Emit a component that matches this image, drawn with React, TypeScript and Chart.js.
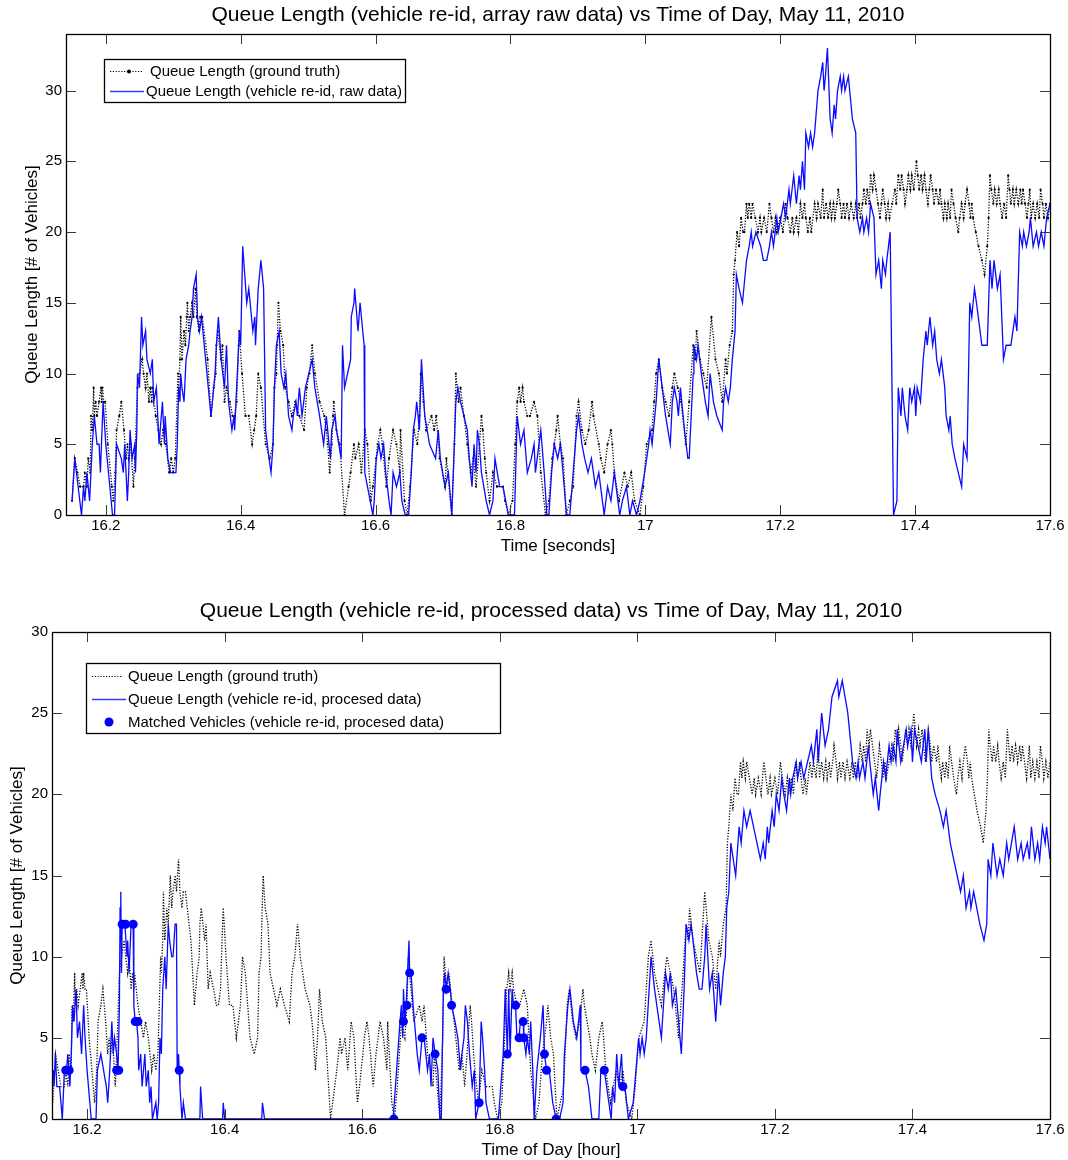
import React, { useEffect, useRef } from "react";
import { Chart, registerables } from "chart.js";
Chart.register(...registerables);

const FONT = "'Liberation Sans', Arial, Helvetica, sans-serif";

// ---- axes ----
const xTickValues = [16.2, 16.4, 16.6, 16.8, 17.0, 17.2, 17.4, 17.6];
const xTickLabels = ["16.2", "16.4", "16.6", "16.8", "17", "17.2", "17.4", "17.6"];
const yTickValues = [0, 5, 10, 15, 20, 25, 30];

const topTitle = "Queue Length (vehicle re-id, array raw data) vs Time of Day, May 11, 2010";
const bottomTitle = "Queue Length (vehicle re-id, processed data) vs Time of Day, May 11, 2010";
const topXLabel = "Time [seconds]";
const bottomXLabel = "Time of Day [hour]";
const yLabel = "Queue Length [# of Vehicles]";

const legendTop = ["Queue Length (ground truth)", "Queue Length (vehicle re-id, raw data)"];
const legendBottom = [
  "Queue Length (ground truth)",
  "Queue Length (vehicle re-id, procesed data)",
  "Matched Vehicles (vehicle re-id, procesed data)",
];

type Pt = [number, number];

// ---- data: [time of day (hour), queue length] ----
const groundTruthQueue: Pt[] = [
  [16.150,1],[16.154,4],[16.158,3],[16.162,2],[16.167,2],[16.169,3],[16.172,2],[16.174,4],[16.177,3],[16.178,7],
  [16.180,6],[16.182,9],[16.183,7],[16.185,8],[16.187,7],[16.190,8],[16.193,9],[16.194,8],[16.195,9],[16.197,8],
  [16.199,8],[16.203,5],[16.209,2],[16.211,1],[16.214,3],[16.216,6],[16.220,7],[16.223,8],[16.227,6],[16.230,4],
  [16.232,5],[16.234,4],[16.237,5],[16.241,2],[16.243,4],[16.247,9],[16.250,10],[16.254,11],[16.256,10],[16.259,9],
  [16.261,10],[16.264,8],[16.266,9],[16.268,8],[16.269,9],[16.274,7],[16.278,6],[16.282,5],[16.285,6],[16.289,5],
  [16.294,3],[16.297,4],[16.300,3],[16.303,4],[16.307,10],[16.308,9],[16.310,11],[16.311,14],[16.313,11],[16.316,13],
  [16.318,12],[16.320,14],[16.321,15],[16.323,13],[16.325,14],[16.328,15],[16.330,14],[16.333,16],[16.335,14],[16.338,13],
  [16.340,14],[16.343,14],[16.351,11],[16.356,7],[16.360,9],[16.363,10],[16.364,12],[16.366,13],[16.371,11],[16.373,12],
  [16.376,8],[16.379,9],[16.384,8],[16.388,7],[16.391,7],[16.394,8],[16.397,12],[16.398,13],[16.402,10],[16.407,7],
  [16.412,7],[16.417,5],[16.420,6],[16.423,7],[16.426,10],[16.430,9],[16.437,5],[16.443,4],[16.448,5],[16.450,9],
  [16.453,10],[16.454,12],[16.456,15],[16.459,13],[16.463,12],[16.466,9],[16.471,8],[16.476,7],[16.481,8],[16.487,7],
  [16.494,6],[16.498,9],[16.502,10],[16.506,12],[16.510,10],[16.517,8],[16.524,7],[16.527,6],[16.529,5],[16.532,3],
  [16.535,5],[16.537,7],[16.538,8],[16.542,6],[16.547,5],[16.554,0],[16.560,2],[16.563,3],[16.568,5],[16.570,4],
  [16.575,5],[16.579,3],[16.584,6],[16.588,5],[16.593,1],[16.596,2],[16.601,4],[16.603,5],[16.607,6],[16.610,5],
  [16.616,2],[16.620,4],[16.626,6],[16.631,5],[16.636,3],[16.637,6],[16.643,1],[16.647,0],[16.651,2],[16.657,6],
  [16.662,5],[16.665,7],[16.667,10],[16.671,8],[16.675,6],[16.683,7],[16.687,6],[16.690,7],[16.695,4],[16.703,2],
  [16.705,4],[16.713,0],[16.717,5],[16.719,10],[16.723,8],[16.726,9],[16.731,7],[16.736,5],[16.741,3],[16.745,4],
  [16.749,2],[16.754,5],[16.757,7],[16.759,6],[16.762,4],[16.764,3],[16.769,1],[16.774,3],[16.780,2],[16.789,2],
  [16.792,1],[16.797,0],[16.803,1],[16.807,5],[16.810,8],[16.813,9],[16.815,8],[16.818,9],[16.820,8],[16.825,7],
  [16.829,7],[16.835,8],[16.840,7],[16.845,3],[16.852,0],[16.857,1],[16.862,4],[16.865,5],[16.868,6],[16.870,7],
  [16.874,5],[16.878,4],[16.883,0],[16.888,1],[16.893,2],[16.898,7],[16.901,8],[16.906,6],[16.911,5],[16.916,6],
  [16.921,8],[16.923,7],[16.931,5],[16.934,4],[16.939,3],[16.944,5],[16.949,6],[16.951,5],[16.954,3],[16.961,1],
  [16.969,3],[16.974,2],[16.979,3],[16.984,1],[16.992,0],[16.997,2],[17.002,5],[17.010,6],[17.013,8],[17.016,10],
  [17.020,11],[17.025,9],[17.030,8],[17.035,7],[17.040,9],[17.043,10],[17.048,9],[17.053,8],[17.060,5],[17.065,8],
  [17.071,12],[17.074,11],[17.076,13],[17.081,11],[17.086,10],[17.091,9],[17.098,14],[17.104,11],[17.109,10],[17.114,8],
  [17.119,11],[17.121,10],[17.125,12],[17.129,13],[17.131,17],[17.133,18],[17.136,20],[17.139,19],[17.142,21],[17.145,20],
  [17.147,20],[17.150,22],[17.152,21],[17.154,22],[17.157,21],[17.159,22],[17.163,21],[17.167,20],[17.170,21],[17.172,20],
  [17.176,21],[17.180,20],[17.184,22],[17.187,21],[17.190,20],[17.193,21],[17.195,20],[17.200,21],[17.204,20],[17.208,22],
  [17.211,21],[17.215,20],[17.218,21],[17.220,20],[17.224,21],[17.227,20],[17.230,22],[17.233,21],[17.236,22],[17.238,21],
  [17.241,20],[17.244,21],[17.246,20],[17.251,22],[17.254,21],[17.256,22],[17.260,21],[17.263,23],[17.265,21],[17.268,22],
  [17.271,21],[17.274,22],[17.276,21],[17.279,22],[17.281,21],[17.284,22],[17.286,23],[17.289,22],[17.291,21],[17.294,22],
  [17.296,21],[17.299,22],[17.302,21],[17.305,22],[17.309,21],[17.312,22],[17.314,21],[17.317,22],[17.319,21],[17.322,22],
  [17.324,23],[17.327,22],[17.329,23],[17.332,22],[17.334,24],[17.337,23],[17.339,24],[17.342,23],[17.345,22],[17.348,21],
  [17.350,22],[17.352,23],[17.355,22],[17.357,21],[17.360,22],[17.362,21],[17.366,22],[17.370,23],[17.372,22],[17.375,24],
  [17.378,23],[17.380,24],[17.383,23],[17.385,22],[17.388,23],[17.390,24],[17.393,23],[17.395,24],[17.398,23],[17.402,25],
  [17.404,24],[17.406,23],[17.409,24],[17.411,23],[17.414,24],[17.416,23],[17.419,22],[17.421,23],[17.423,24],[17.426,23],
  [17.428,22],[17.431,23],[17.435,22],[17.437,23],[17.439,22],[17.442,21],[17.444,22],[17.447,21],[17.449,22],[17.452,21],
  [17.454,23],[17.457,22],[17.460,21],[17.464,20],[17.466,21],[17.469,22],[17.472,21],[17.474,22],[17.477,23],[17.480,22],
  [17.482,21],[17.484,22],[17.486,21],[17.490,20],[17.494,19],[17.499,18],[17.503,17],[17.507,19],[17.509,21],[17.511,24],
  [17.513,23],[17.516,22],[17.518,23],[17.521,22],[17.524,23],[17.526,22],[17.529,21],[17.532,22],[17.535,21],[17.538,24],
  [17.540,23],[17.542,22],[17.545,23],[17.547,22],[17.550,23],[17.553,22],[17.556,23],[17.558,22],[17.560,23],[17.563,22],
  [17.566,21],[17.568,22],[17.570,23],[17.572,21],[17.575,22],[17.578,21],[17.581,22],[17.584,21],[17.586,23],[17.589,22],
  [17.591,21],[17.594,22],[17.597,21],[17.600,22],
];

const rawReidQueue: Pt[] = [
  [16.150,1],[16.154,4],[16.159,2],[16.164,0],[16.167,2],[16.169,1],[16.172,3],[16.176,1],[16.180,5],[16.183,7],
  [16.187,5],[16.190,5],[16.192,3],[16.196,8],[16.200,5],[16.210,0],[16.213,0],[16.216,5],[16.223,4],[16.226,3],
  [16.228,5],[16.232,1],[16.234,3],[16.236,6],[16.239,4],[16.243,5],[16.244,3],[16.246,6],[16.247,10],[16.250,9],
  [16.253,14],[16.255,12],[16.259,13],[16.261,11],[16.266,10],[16.269,11],[16.271,8],[16.275,9],[16.279,5],[16.284,8],
  [16.287,5],[16.288,7],[16.292,4],[16.296,3],[16.304,3],[16.306,5],[16.308,9],[16.310,8],[16.311,10],[16.313,9],
  [16.316,8],[16.319,11],[16.323,12],[16.325,13],[16.328,14],[16.330,16],[16.334,17],[16.336,14],[16.339,13],[16.342,14],
  [16.348,11],[16.356,7],[16.362,10],[16.364,12],[16.367,14],[16.371,11],[16.376,9],[16.379,12],[16.382,8],[16.387,6],
  [16.390,7],[16.391,6],[16.395,10],[16.398,13],[16.400,12],[16.403,19],[16.406,17],[16.409,15],[16.412,16],[16.418,13],
  [16.421,14],[16.422,12],[16.424,14],[16.426,16],[16.430,18],[16.434,16],[16.437,6],[16.442,4],[16.445,3],[16.448,5],
  [16.450,9],[16.453,12],[16.457,13],[16.460,10],[16.464,9],[16.467,10],[16.471,7],[16.476,6],[16.478,7],[16.482,8],
  [16.484,7],[16.487,9],[16.491,7],[16.496,9],[16.501,10],[16.506,11],[16.510,9],[16.517,7],[16.523,5],[16.527,7],
  [16.529,6],[16.533,4],[16.535,6],[16.540,7],[16.542,6],[16.549,4],[16.551,12],[16.554,9],[16.563,11],[16.564,14],
  [16.568,15],[16.569,16],[16.574,13],[16.577,15],[16.583,12],[16.584,3],[16.588,2],[16.596,0],[16.598,1],[16.601,4],
  [16.605,5],[16.608,4],[16.612,5],[16.615,3],[16.620,1],[16.623,0],[16.626,3],[16.631,2],[16.636,3],[16.639,1],
  [16.644,0],[16.649,0],[16.653,3],[16.656,6],[16.659,7],[16.661,8],[16.665,6],[16.668,11],[16.673,7],[16.680,5],
  [16.689,4],[16.693,6],[16.696,4],[16.703,2],[16.708,3],[16.713,0],[16.719,8],[16.722,9],[16.726,8],[16.731,7],
  [16.736,6],[16.739,4],[16.743,2],[16.746,5],[16.749,3],[16.751,6],[16.754,5],[16.757,3],[16.764,1],[16.769,0],
  [16.774,1],[16.777,4],[16.784,2],[16.789,2],[16.797,0],[16.806,0],[16.810,7],[16.815,5],[16.820,6],[16.825,3],
  [16.831,4],[16.835,5],[16.837,3],[16.845,6],[16.850,3],[16.854,0],[16.857,0],[16.861,3],[16.865,5],[16.870,4],
  [16.874,5],[16.878,3],[16.883,0],[16.888,0],[16.893,3],[16.898,6],[16.901,7],[16.906,5],[16.910,4],[16.915,3],
  [16.920,4],[16.926,2],[16.931,3],[16.939,0],[16.944,2],[16.949,1],[16.954,3],[16.962,0],[16.966,1],[16.972,2],
  [16.977,0],[16.981,1],[16.987,0],[16.992,1],[16.999,3],[17.005,5],[17.007,6],[17.010,5],[17.012,6],[17.016,8],
  [17.020,11],[17.025,9],[17.030,7],[17.037,5],[17.040,8],[17.043,9],[17.047,8],[17.049,7],[17.052,9],[17.058,6],
  [17.063,4],[17.065,4],[17.068,7],[17.071,10],[17.072,12],[17.076,11],[17.078,12],[17.083,10],[17.089,8],[17.093,7],
  [17.096,10],[17.101,8],[17.106,7],[17.114,6],[17.116,8],[17.119,9],[17.123,8],[17.126,9],[17.129,11],[17.133,13],
  [17.135,17],[17.139,16],[17.144,15],[17.148,17],[17.150,18],[17.154,19],[17.157,20],[17.159,19],[17.164,20],[17.171,19],
  [17.175,18],[17.180,18],[17.184,19],[17.187,20],[17.190,19],[17.195,21],[17.197,20],[17.205,22],[17.208,21],[17.213,23],
  [17.215,22],[17.220,24],[17.224,22],[17.228,24],[17.230,23],[17.233,25],[17.236,23],[17.238,27],[17.242,26],[17.245,27],
  [17.248,26],[17.251,27],[17.256,30],[17.260,31],[17.263,32],[17.265,30],[17.267,31],[17.270,33],[17.274,28],[17.277,27],
  [17.280,29],[17.282,28],[17.285,30],[17.289,31],[17.291,30],[17.294,31],[17.296,30],[17.301,31],[17.307,28],[17.312,27],
  [17.314,21],[17.318,20],[17.322,21],[17.324,20],[17.328,21],[17.331,20],[17.334,22],[17.339,21],[17.342,17],[17.346,18],
  [17.350,16],[17.352,18],[17.356,17],[17.358,18],[17.363,20],[17.368,0],[17.373,1],[17.375,9],[17.379,7],[17.381,9],
  [17.385,7],[17.389,6],[17.392,9],[17.395,8],[17.399,9],[17.401,7],[17.403,9],[17.408,8],[17.412,11],[17.416,13],
  [17.418,12],[17.422,14],[17.426,12],[17.429,13],[17.432,11],[17.436,10],[17.439,11],[17.444,9],[17.446,7],[17.450,6],
  [17.452,7],[17.455,5],[17.459,4],[17.464,3],[17.469,2],[17.472,5],[17.477,4],[17.481,15],[17.484,14],[17.488,16],
  [17.491,15],[17.499,12],[17.507,12],[17.511,18],[17.514,16],[17.517,18],[17.522,16],[17.526,17],[17.531,11],[17.535,12],
  [17.542,12],[17.545,13],[17.548,14],[17.551,13],[17.555,20],[17.559,19],[17.561,20],[17.565,19],[17.569,20],[17.571,21],
  [17.575,19],[17.580,20],[17.583,19],[17.587,20],[17.591,19],[17.595,21],[17.600,22],
];

const processedReidQueue: Pt[] = [
  [16.151,3],[16.152,2],[16.154,4],[16.156,2],[16.160,2],[16.162,1],[16.164,0],[16.166,2],[16.167,3],[16.170,3],
  [16.172,4],[16.175,2],[16.177,4],[16.179,7],[16.181,6],[16.184,8],[16.186,5],[16.189,6],[16.192,4],[16.195,7],
  [16.197,5],[16.200,3],[16.204,1],[16.206,0],[16.213,0],[16.215,3],[16.220,4],[16.224,3],[16.228,2],[16.230,1],
  [16.233,3],[16.236,6],[16.238,4],[16.240,5],[16.243,4],[16.245,3],[16.247,7],[16.248,13],[16.249,14],[16.250,9],
  [16.251,12],[16.255,12],[16.258,10],[16.259,11],[16.261,9],[16.264,12],[16.267,12],[16.268,7],[16.270,6],[16.272,6],
  [16.274,5],[16.275,3],[16.278,4],[16.280,2],[16.282,3],[16.284,4],[16.286,2],[16.289,3],[16.291,1],[16.293,2],
  [16.295,0],[16.300,1],[16.302,0],[16.304,1],[16.306,5],[16.308,4],[16.310,8],[16.313,10],[16.315,8],[16.318,12],
  [16.320,11],[16.323,10],[16.325,10],[16.328,12],[16.330,12],[16.331,3],[16.333,4],[16.334,3],[16.335,2],[16.338,0],
  [16.340,1],[16.343,0],[16.364,0],[16.365,2],[16.368,0],[16.397,0],[16.398,1],[16.400,0],[16.454,0],[16.455,1],
  [16.458,0],[16.645,0],[16.650,3],[16.655,6],[16.657,7],[16.659,5],[16.660,8],[16.662,6],[16.664,7],[16.666,9],
  [16.668,11],[16.669,9],[16.671,9],[16.674,7],[16.678,5],[16.680,4],[16.683,3],[16.687,5],[16.690,5],[16.695,3],
  [16.698,4],[16.700,2],[16.703,5],[16.706,4],[16.710,3],[16.713,0],[16.715,0],[16.718,8],[16.720,9],[16.722,8],
  [16.725,9],[16.728,8],[16.730,7],[16.735,6],[16.739,5],[16.743,3],[16.745,4],[16.748,5],[16.750,7],[16.753,6],
  [16.756,4],[16.760,2],[16.763,3],[16.765,0],[16.770,1],[16.773,6],[16.775,5],[16.778,3],[16.780,1],[16.785,0],
  [16.798,0],[16.805,4],[16.808,8],[16.811,4],[16.813,8],[16.815,4],[16.818,8],[16.820,7],[16.823,7],[16.825,5],
  [16.828,5],[16.830,6],[16.834,6],[16.835,5],[16.838,4],[16.840,5],[16.843,4],[16.845,6],[16.848,3],[16.850,0],
  [16.854,3],[16.859,5],[16.863,7],[16.865,4],[16.868,3],[16.872,3],[16.877,1],[16.882,0],[16.887,0],[16.892,1],
  [16.894,4],[16.899,7],[16.902,8],[16.907,6],[16.912,5],[16.917,7],[16.918,3],[16.924,3],[16.929,2],[16.934,0],
  [16.944,0],[16.947,3],[16.952,3],[16.962,0],[16.964,2],[16.967,1],[16.970,4],[16.973,2],[16.977,4],[16.979,2],
  [16.982,2],[16.987,0],[16.994,1],[17.000,4],[17.002,5],[17.004,4],[17.007,5],[17.010,4],[17.013,5],[17.020,10],
  [17.025,8],[17.035,5],[17.041,9],[17.045,8],[17.048,9],[17.051,7],[17.056,8],[17.064,4],[17.068,8],[17.071,12],
  [17.075,11],[17.078,12],[17.081,11],[17.086,9],[17.090,8],[17.094,8],[17.098,10],[17.100,12],[17.105,8],[17.109,9],
  [17.114,6],[17.118,9],[17.121,7],[17.125,9],[17.128,10],[17.130,13],[17.133,14],[17.136,17],[17.143,15],[17.148,18],
  [17.151,17],[17.155,19],[17.159,18],[17.164,19],[17.174,17],[17.179,16],[17.183,17],[17.186,16],[17.189,18],[17.191,17],
  [17.196,19],[17.199,18],[17.202,20],[17.206,19],[17.210,21],[17.213,20],[17.217,19],[17.221,21],[17.223,20],[17.226,21],
  [17.231,22],[17.233,21],[17.238,22],[17.242,21],[17.253,23],[17.256,22],[17.261,24],[17.263,22],[17.268,25],[17.273,23],
  [17.278,24],[17.283,26],[17.291,27],[17.293,26],[17.298,27],[17.306,25],[17.313,22],[17.318,21],[17.321,22],[17.323,21],
  [17.328,22],[17.331,21],[17.336,23],[17.338,22],[17.343,20],[17.346,21],[17.351,19],[17.353,20],[17.358,22],[17.361,21],
  [17.366,23],[17.369,22],[17.372,23],[17.376,22],[17.378,24],[17.383,22],[17.391,24],[17.393,23],[17.398,24],[17.400,22],
  [17.403,24],[17.408,23],[17.413,22],[17.418,24],[17.420,22],[17.423,24],[17.428,21],[17.433,20],[17.440,19],[17.445,18],
  [17.449,19],[17.455,17],[17.460,16],[17.465,15],[17.470,14],[17.474,15],[17.478,13],[17.483,14],[17.485,13],[17.489,14],
  [17.498,12],[17.504,11],[17.508,12],[17.510,16],[17.514,15],[17.517,17],[17.520,16],[17.523,15],[17.527,16],[17.532,15],
  [17.537,17],[17.540,16],[17.548,18],[17.553,16],[17.558,17],[17.561,16],[17.567,17],[17.570,16],[17.573,18],[17.578,16],
  [17.582,17],[17.585,16],[17.589,18],[17.593,17],[17.595,18],[17.600,16],
];

const matchedVehicles: Pt[] = [
  [16.169,3],[16.174,3],[16.243,3],[16.246,3],[16.251,12],[16.256,12],[16.267,12],[16.270,6],[16.274,6],[16.334,3],
  [16.646,0],[16.660,6],[16.665,7],[16.669,9],[16.687,5],[16.706,4],[16.722,8],[16.730,7],[16.770,1],[16.811,4],
  [16.823,7],[16.828,5],[16.834,6],[16.835,5],[16.865,4],[16.868,3],[16.882,0],[16.924,3],[16.952,3],[16.979,2],
];

const toXY = (arr: Pt[]) => arr.map(([x, y]) => ({ x, y }));

// ---- plugin drawing the MATLAB-style frame, titles and legend ----
const framePlugin = {
  id: "matlabFrame",
  afterDatasetsDraw(chart: any, _args: any, o: any) {
    const { ctx, chartArea: a, scales } = chart;
    ctx.save();
    // inward ticks
    ctx.strokeStyle = "#3a3a3a";
    ctx.lineWidth = 1;
    ctx.setLineDash([]);
    ctx.beginPath();
    for (const v of xTickValues) {
      const px = Math.round(scales.x.getPixelForValue(v)) + 0.5;
      ctx.moveTo(px, a.bottom);
      ctx.lineTo(px, a.bottom - o.tickLen);
      ctx.moveTo(px, a.top);
      ctx.lineTo(px, a.top + o.tickLen);
    }
    for (const v of yTickValues) {
      const py = Math.round(scales.y.getPixelForValue(v)) + 0.5;
      ctx.moveTo(a.left, py);
      ctx.lineTo(a.left + o.tickLen, py);
      ctx.moveTo(a.right, py);
      ctx.lineTo(a.right - o.tickLen, py);
    }
    ctx.stroke();
    // box
    ctx.strokeStyle = "#000";
    ctx.lineWidth = 1.3;
    ctx.strokeRect(a.left + 0.5, a.top + 0.5, a.right - a.left, a.bottom - a.top);

    // legend
    const lg = o.legend;
    ctx.fillStyle = "#fff";
    ctx.fillRect(lg.x, lg.y, lg.w, lg.h);
    ctx.strokeStyle = "#000";
    ctx.lineWidth = 1.3;
    ctx.strokeRect(lg.x + 0.5, lg.y + 0.5, lg.w, lg.h);
    ctx.font = `15px ${FONT}`;
    ctx.textBaseline = "middle";
    ctx.textAlign = "left";
    for (const r of lg.rows) {
      if (r.kind === "dotted") {
        ctx.strokeStyle = "#000";
        ctx.lineWidth = 1.2;
        ctx.setLineDash([1.2, 1.6]);
        ctx.beginPath();
        ctx.moveTo(r.x0, r.y + 0.5);
        ctx.lineTo(r.x1, r.y + 0.5);
        ctx.stroke();
        ctx.setLineDash([]);
        if (r.dot) {
          ctx.fillStyle = "#000";
          ctx.beginPath();
          ctx.arc(r.dotX, r.y + 0.5, 2, 0, Math.PI * 2);
          ctx.fill();
        }
      } else if (r.kind === "solid") {
        ctx.strokeStyle = "#3a3aff";
        ctx.lineWidth = 1.4;
        ctx.beginPath();
        ctx.moveTo(r.x0, r.y + 0.5);
        ctx.lineTo(r.x1, r.y + 0.5);
        ctx.stroke();
      } else {
        ctx.fillStyle = "#0000ff";
        ctx.beginPath();
        ctx.arc((r.x0 + r.x1) / 2, r.y, 4.5, 0, Math.PI * 2);
        ctx.fill();
      }
      ctx.fillStyle = "#000";
      ctx.fillText(r.text, r.tx, r.y + 1);
    }

    // titles
    ctx.fillStyle = "#000";
    ctx.textAlign = "center";
    ctx.textBaseline = "middle";
    const cx = (a.left + a.right) / 2;
    ctx.font = `21px ${FONT}`;
    ctx.fillText(o.title, cx, o.titleY);
    ctx.font = `17px ${FONT}`;
    ctx.fillText(o.xLabel, cx, o.xLabelY);
    ctx.translate(o.yLabelX, (a.top + a.bottom) / 2);
    ctx.rotate(-Math.PI / 2);
    ctx.fillText(o.yLabel, 0, 0);
    ctx.restore();
  },
};

function buildConfig(p: any) {
  return {
    type: "line",
    data: { datasets: p.datasets },
    options: {
      animation: false,
      responsive: false,
      devicePixelRatio: 1,
      events: [],
      layout: { padding: { left: 0, top: p.top, right: 1068 - p.right, bottom: 0 } },
      plugins: {
        legend: { display: false },
        tooltip: { enabled: false },
        title: { display: false },
        matlabFrame: p.frame,
      },
      scales: {
        x: {
          type: "linear",
          min: p.xMin,
          max: 17.6,
          grid: { display: false, drawTicks: false },
          border: { display: false },
          afterBuildTicks: (s: any) => {
            s.ticks = xTickValues.map((v) => ({ value: v }));
          },
          afterFit: (s: any) => {
            s.height = 580 - p.bottom;
          },
          ticks: {
            autoSkip: false,
            maxRotation: 0,
            padding: 2,
            color: "#000",
            font: { family: FONT, size: 15 },
            callback: (_v: any, i: number) => xTickLabels[i],
          },
        },
        y: {
          type: "linear",
          min: 0,
          max: p.yMax,
          grid: { display: false, drawTicks: false },
          border: { display: false },
          afterBuildTicks: (s: any) => {
            s.ticks = yTickValues.map((v) => ({ value: v }));
          },
          afterFit: (s: any) => {
            s.width = p.left;
          },
          ticks: {
            autoSkip: false,
            padding: 4,
            color: "#000",
            font: { family: FONT, size: 15 },
            callback: (v: any) => String(v),
          },
        },
      },
    },
    plugins: [framePlugin],
  };
}

const topConfig = () =>
  buildConfig({
    left: 66,
    right: 1050,
    top: 34,
    bottom: 515,
    xMin: 16.141,
    yMax: 34,
    datasets: [
      {
        label: legendTop[1],
        data: toXY(rawReidQueue),
        borderColor: "#0a0aff",
        borderWidth: 1.3,
        pointRadius: 0,
        tension: 0,
        order: 1,
      },
      {
        label: legendTop[0],
        data: toXY(groundTruthQueue),
        borderColor: "#000",
        borderWidth: 1.3,
        borderDash: [1.2, 1.6],
        pointRadius: 1.1,
        pointBorderWidth: 0,
        pointBackgroundColor: "#000",
        tension: 0,
        order: 2,
      },
    ],
    frame: {
      tickLen: 10,
      title: topTitle,
      titleY: 15,
      xLabel: topXLabel,
      xLabelY: 546,
      yLabel: yLabel,
      yLabelX: 32,
      legend: {
        x: 104,
        y: 59,
        w: 301,
        h: 43,
        rows: [
          { kind: "dotted", dot: true, dotX: 129, x0: 110, x1: 142, y: 71, tx: 150, text: legendTop[0] },
          { kind: "solid", x0: 110, x1: 144, y: 91, tx: 146, text: legendTop[1] },
        ],
      },
    },
  });

const bottomConfig = () =>
  buildConfig({
    left: 52,
    right: 1050,
    top: 52,
    bottom: 539,
    xMin: 16.149,
    yMax: 30,
    datasets: [
      {
        label: legendBottom[2],
        data: toXY(matchedVehicles),
        showLine: false,
        pointRadius: 4.5,
        pointBorderWidth: 0,
        pointBackgroundColor: "#0000ff",
        order: 0,
      },
      {
        label: legendBottom[1],
        data: toXY(processedReidQueue),
        borderColor: "#0a0aff",
        borderWidth: 1.3,
        pointRadius: 0,
        tension: 0,
        order: 1,
      },
      {
        label: legendBottom[0],
        data: toXY(groundTruthQueue),
        borderColor: "#000",
        borderWidth: 1.3,
        borderDash: [1.2, 1.6],
        pointRadius: 0,
        tension: 0,
        order: 2,
      },
    ],
    frame: {
      tickLen: 10,
      title: bottomTitle,
      titleY: 31,
      xLabel: bottomXLabel,
      xLabelY: 570,
      yLabel: yLabel,
      yLabelX: 17,
      legend: {
        x: 86,
        y: 83,
        w: 414,
        h: 70,
        rows: [
          { kind: "dotted", dot: false, x0: 92, x1: 123, y: 96, tx: 128, text: legendBottom[0] },
          { kind: "solid", x0: 92, x1: 126, y: 119, tx: 128, text: legendBottom[1] },
          { kind: "marker", x0: 104, x1: 114, y: 142, tx: 128, text: legendBottom[2] },
        ],
      },
    },
  });

export default function App() {
  const topRef = useRef<HTMLCanvasElement | null>(null);
  const botRef = useRef<HTMLCanvasElement | null>(null);
  useEffect(() => {
    const c1 = new Chart(topRef.current as HTMLCanvasElement, topConfig() as any);
    const c2 = new Chart(botRef.current as HTMLCanvasElement, bottomConfig() as any);
    return () => {
      c1.destroy();
      c2.destroy();
    };
  }, []);
  return (
    <div style={{ position: "absolute", left: 0, top: 0, width: 1068, height: 1160, background: "#fff" }}>
      <canvas ref={topRef} width={1068} height={580} style={{ position: "absolute", left: 0, top: 0, width: 1068, height: 580 }} />
      <canvas ref={botRef} width={1068} height={580} style={{ position: "absolute", left: 0, top: 580, width: 1068, height: 580 }} />
    </div>
  );
}
